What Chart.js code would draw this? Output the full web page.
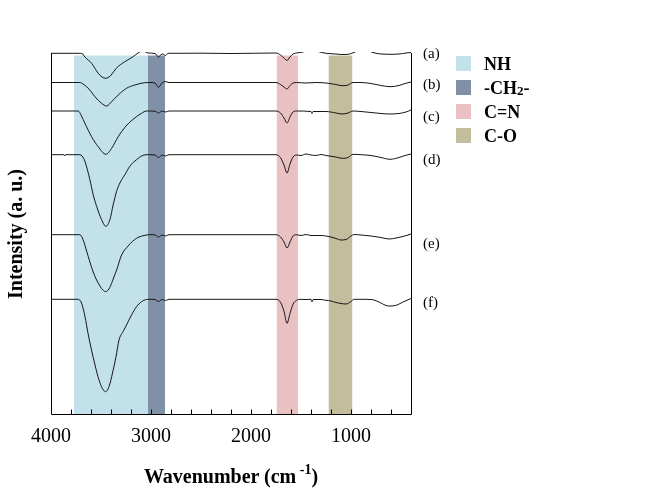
<!DOCTYPE html>
<html><head><meta charset="utf-8">
<script src="https://cdn.jsdelivr.net/npm/chart.js@4.4.1/dist/chart.umd.min.js"></script>
<style>
body{margin:0;background:#fff;}
#wrap{position:relative;width:672px;height:492px;font-family:"Liberation Serif","Times New Roman",serif;color:#000;overflow:hidden;}
canvas{position:absolute;left:0;top:0;}
.t{position:absolute;white-space:nowrap;line-height:20px;}
.lab{font-size:15px;}
.leg{font-size:18px;font-weight:bold;}
.sw{position:absolute;width:15px;height:15px;}
</style></head><body>
<div id="wrap">
<canvas id="c" width="672" height="492"></canvas>
<div class="t lab" style="left:423px;top:43px">(a)</div>
<div class="t lab" style="left:423px;top:74px">(b)</div>
<div class="t lab" style="left:423px;top:106px">(c)</div>
<div class="t lab" style="left:423px;top:149px">(d)</div>
<div class="t lab" style="left:423px;top:233px">(e)</div>
<div class="t lab" style="left:423px;top:292px">(f)</div>
<div id="legend"></div>
<div class="t" style="left:131px;width:200px;text-align:center;top:462px;font-size:20px;font-weight:bold;line-height:28px">Wavenumber (cm<sup style="font-size:14px;vertical-align:9px;line-height:0"> -1</sup>)</div>
<div class="t" style="left:15px;top:234px;font-size:20px;font-weight:bold;transform:translate(-50%,-50%) rotate(-90deg)">Intensity (a. u.)</div>
</div>
<script>
// ---- data ----
const xTickValues = [4000, 3000, 2000, 1000];
const bandNames = ["NH", "-CH2-", "C=N", "C-O"];
const bandStart = [3770, 3030, 1745, 1225];
const bandEnd = [3030, 2860, 1530, 985];
const bandTop = 35.85;
const traceLabels = ["(a)", "(b)", "(c)", "(d)", "(e)", "(f)"];

const spectrumA = [[4000,36.07],[3850,36.07],[3720,36.07],[3690,36.05],[3661,35.7],[3594,35.07],[3528,34.07],[3490,33.7],[3454,33.57],[3420,33.7],[3398,33.9],[3348,34.57],[3261,35.23],[3179,35.73],[3130,36.1],[3080,36.3],[3030,36.1],[2960,36.05],[2925,35.7],[2900,35.95],[2880,36.0],[2855,35.85],[2830,36.07],[2500,36.08],[2200,36.05],[1750,36.1],[1705,35.9],[1670,35.6],[1640,35.35],[1610,35.7],[1580,36.0],[1545,36.1],[1480,36.2],[1420,36.35],[1350,36.3],[1290,36.15],[1250,36.07],[1150,36.0],[1090,35.95],[1030,35.97],[980,36.12],[930,36.3],[850,36.35],[780,36.15],[740,36.05],[700,36.0],[620,35.97],[520,36.0],[450,36.1],[400,36.15]];
const spectrumB = [[4000,33.15],[3850,33.15],[3711,33.15],[3680,33.0],[3644,32.73],[3600,32.25],[3561,31.73],[3494,31.07],[3444,30.8],[3394,31.23],[3328,31.9],[3245,32.57],[3162,32.9],[3062,33.13],[3000,33.15],[2960,33.1],[2925,32.67],[2890,33.1],[2860,33.25],[2820,33.15],[2400,33.15],[1750,33.15],[1705,32.95],[1670,32.7],[1640,32.5],[1610,32.85],[1580,33.1],[1545,33.15],[1450,33.1],[1350,33.15],[1250,33.1],[1150,32.95],[1090,32.83],[1030,32.9],[980,33.15],[900,33.15],[800,33.05],[700,32.85],[610,32.73],[520,32.85],[460,33.05],[400,33.2]];
const spectrumC = [[4000,30.3],[3850,30.3],[3728,30.3],[3695,29.8],[3661,29.07],[3594,27.73],[3528,26.73],[3451,25.97],[3394,26.57],[3328,27.73],[3261,28.67],[3179,29.47],[3095,30.07],[3045,30.3],[2960,30.28],[2925,30.1],[2890,30.3],[2855,30.2],[2820,30.3],[2400,30.3],[1750,30.3],[1705,30.1],[1670,29.6],[1640,29.1],[1610,29.7],[1580,30.2],[1545,30.3],[1400,30.25],[1390,30.05],[1380,30.25],[1250,30.25],[1150,30.1],[1090,30.0],[1030,30.1],[980,30.3],[900,30.25],[800,30.15],[700,30.05],[620,30.0],[520,30.05],[450,30.2],[400,30.4]];
const spectrumD = [[4000,25.93],[3870,25.93],[3862,25.8],[3855,25.93],[3711,25.93],[3690,25.8],[3661,25.27],[3611,23.43],[3578,21.93],[3544,20.77],[3494,19.43],[3451,18.77],[3411,19.43],[3378,20.93],[3344,22.27],[3311,23.1],[3261,23.93],[3212,24.77],[3145,25.43],[3079,25.87],[3040,25.93],[2960,25.9],[2925,25.65],[2890,25.9],[2855,25.8],[2820,25.93],[2400,25.93],[1750,25.93],[1705,25.63],[1670,24.9],[1640,24.1],[1610,25.0],[1580,25.7],[1545,25.9],[1500,25.85],[1450,26.0],[1400,25.9],[1350,25.85],[1300,25.95],[1250,25.85],[1150,25.7],[1090,25.57],[1030,25.65],[980,25.97],[900,25.93],[800,25.85],[700,25.65],[610,25.47],[520,25.65],[460,25.85],[400,26.0]];
const spectrumE = [[4000,17.93],[3850,17.93],[3711,17.93],[3678,17.4],[3644,16.3],[3611,15.2],[3578,14.2],[3544,13.4],[3511,12.8],[3481,12.4],[3451,12.23],[3421,12.5],[3394,13.07],[3371,13.7],[3344,14.4],[3294,15.9],[3229,16.8],[3145,17.57],[3045,17.9],[3000,17.93],[2960,17.9],[2925,17.7],[2890,17.9],[2855,17.8],[2820,17.93],[2400,17.93],[1750,17.93],[1705,17.7],[1670,17.2],[1640,16.6],[1610,17.2],[1580,17.8],[1545,17.93],[1500,17.85],[1450,17.95],[1400,17.85],[1300,17.85],[1250,17.8],[1200,17.7],[1150,17.55],[1100,17.4],[1050,17.45],[1000,17.8],[970,17.95],[900,17.9],[800,17.8],[700,17.65],[620,17.5],[550,17.6],[480,17.75],[400,18.0]];
const spectrumF = [[4000,11.47],[3860,11.47],[3730,11.47],[3695,11.1],[3660,9.73],[3630,8.07],[3595,6.4],[3560,4.9],[3530,3.73],[3495,2.73],[3455,2.23],[3420,2.73],[3385,4.1],[3350,5.73],[3320,7.4],[3280,8.23],[3245,8.9],[3195,9.9],[3145,10.73],[3095,11.23],[3045,11.45],[3000,11.47],[2960,11.45],[2925,11.25],[2890,11.45],[2855,11.35],[2820,11.47],[2400,11.47],[1750,11.47],[1705,11.17],[1670,10.27],[1640,9.07],[1610,10.07],[1580,10.97],[1545,11.37],[1510,11.47],[1450,11.45],[1400,11.47],[1390,11.2],[1380,11.45],[1300,11.45],[1250,11.37],[1200,11.3],[1150,11.15],[1100,11.05],[1050,11.0],[1000,11.25],[970,11.47],[900,11.47],[800,11.45],[720,11.2],[650,10.85],[600,10.8],[540,10.9],[480,11.2],[400,11.55]];

// ---- styles ----
const bandColors = ["#c3e1ea", "#7f90a7", "#e9c1c3", "#c3bd9e"];
const FONT = '"Liberation Serif","Times New Roman",serif';

const spectra = [spectrumA, spectrumB, spectrumC, spectrumD, spectrumE, spectrumF];
const datasets = spectra.map((s, i) => ({
  label: traceLabels[i],
  data: s.map(p => ({x: p[0], y: p[1]})),
  borderColor: "#161616",
  borderWidth: 1,
  pointRadius: 0,
  fill: false,
  cubicInterpolationMode: "monotone",
  clip: 0,
  order: 1
}));
bandNames.forEach((n, i) => {
  datasets.push({
    label: n,
    data: [{x: bandStart[i], y: bandTop}, {x: bandEnd[i], y: bandTop}],
    borderWidth: 0,
    borderColor: "rgba(0,0,0,0)",
    backgroundColor: bandColors[i],
    pointRadius: 0,
    fill: "origin",
    tension: 0,
    order: 5
  });
});

// HTML legend
const legend = document.getElementById("legend");
const legendTops = [56, 80, 104, 128];
bandNames.forEach((n, i) => {
  const sw = document.createElement("div");
  sw.className = "sw";
  sw.style.left = "456px";
  sw.style.top = legendTops[i] + "px";
  sw.style.background = bandColors[i];
  legend.appendChild(sw);
  const tx = document.createElement("div");
  tx.className = "t leg";
  tx.style.left = "484px";
  tx.style.top = (legendTops[i] - 2) + "px";
  if (n === "-CH2-") tx.innerHTML = '-CH<span style="font-size:13px;position:relative;top:1px">2</span>-';
  else tx.textContent = n;
  legend.appendChild(tx);
});

const framePlugin = {
  id: "frame",
  afterDatasetsDraw(chart) {
    const {ctx, chartArea: a, scales: {x}} = chart;
    ctx.save();
    ctx.strokeStyle = "#000";
    ctx.lineWidth = 1;
    ctx.beginPath();
    const L = Math.round(a.left) + 0.5, R = Math.round(a.right) + 0.5, B = Math.round(a.bottom) + 0.5;
    ctx.moveTo(L, a.top + 1);
    ctx.lineTo(L, B);
    ctx.lineTo(R, B);
    ctx.lineTo(R, a.top + 1);
    for (let v = 3800; v > 400; v -= 200) {
      const px = Math.round(x.getPixelForValue(v)) + 0.5;
      ctx.moveTo(px, B);
      ctx.lineTo(px, B - 5);
    }
    ctx.stroke();
    ctx.restore();
  }
};

new Chart(document.getElementById("c"), {
  type: "line",
  data: {datasets},
  options: {
    responsive: false,
    animation: false,
    events: [],
    layout: {padding: {left: 51, top: 52, right: 261, bottom: 0}},
    plugins: {legend: {display: false}, tooltip: {enabled: false}},
    scales: {
      x: {
        type: "linear",
        reverse: true,
        min: 400,
        max: 4000,
        afterBuildTicks: s => { s.ticks = xTickValues.map(v => ({value: v})); },
        afterFit: s => { s.height = 78; },
        grid: {display: false, drawTicks: false},
        border: {display: false},
        ticks: {color: "#000", font: {family: FONT, size: 20}, padding: 11, maxRotation: 0, autoSkip: false, callback: v => String(v)}
      },
      y: {display: false, min: 0, max: 36.2}
    }
  },
  plugins: [framePlugin]
});
</script>
</body></html>
